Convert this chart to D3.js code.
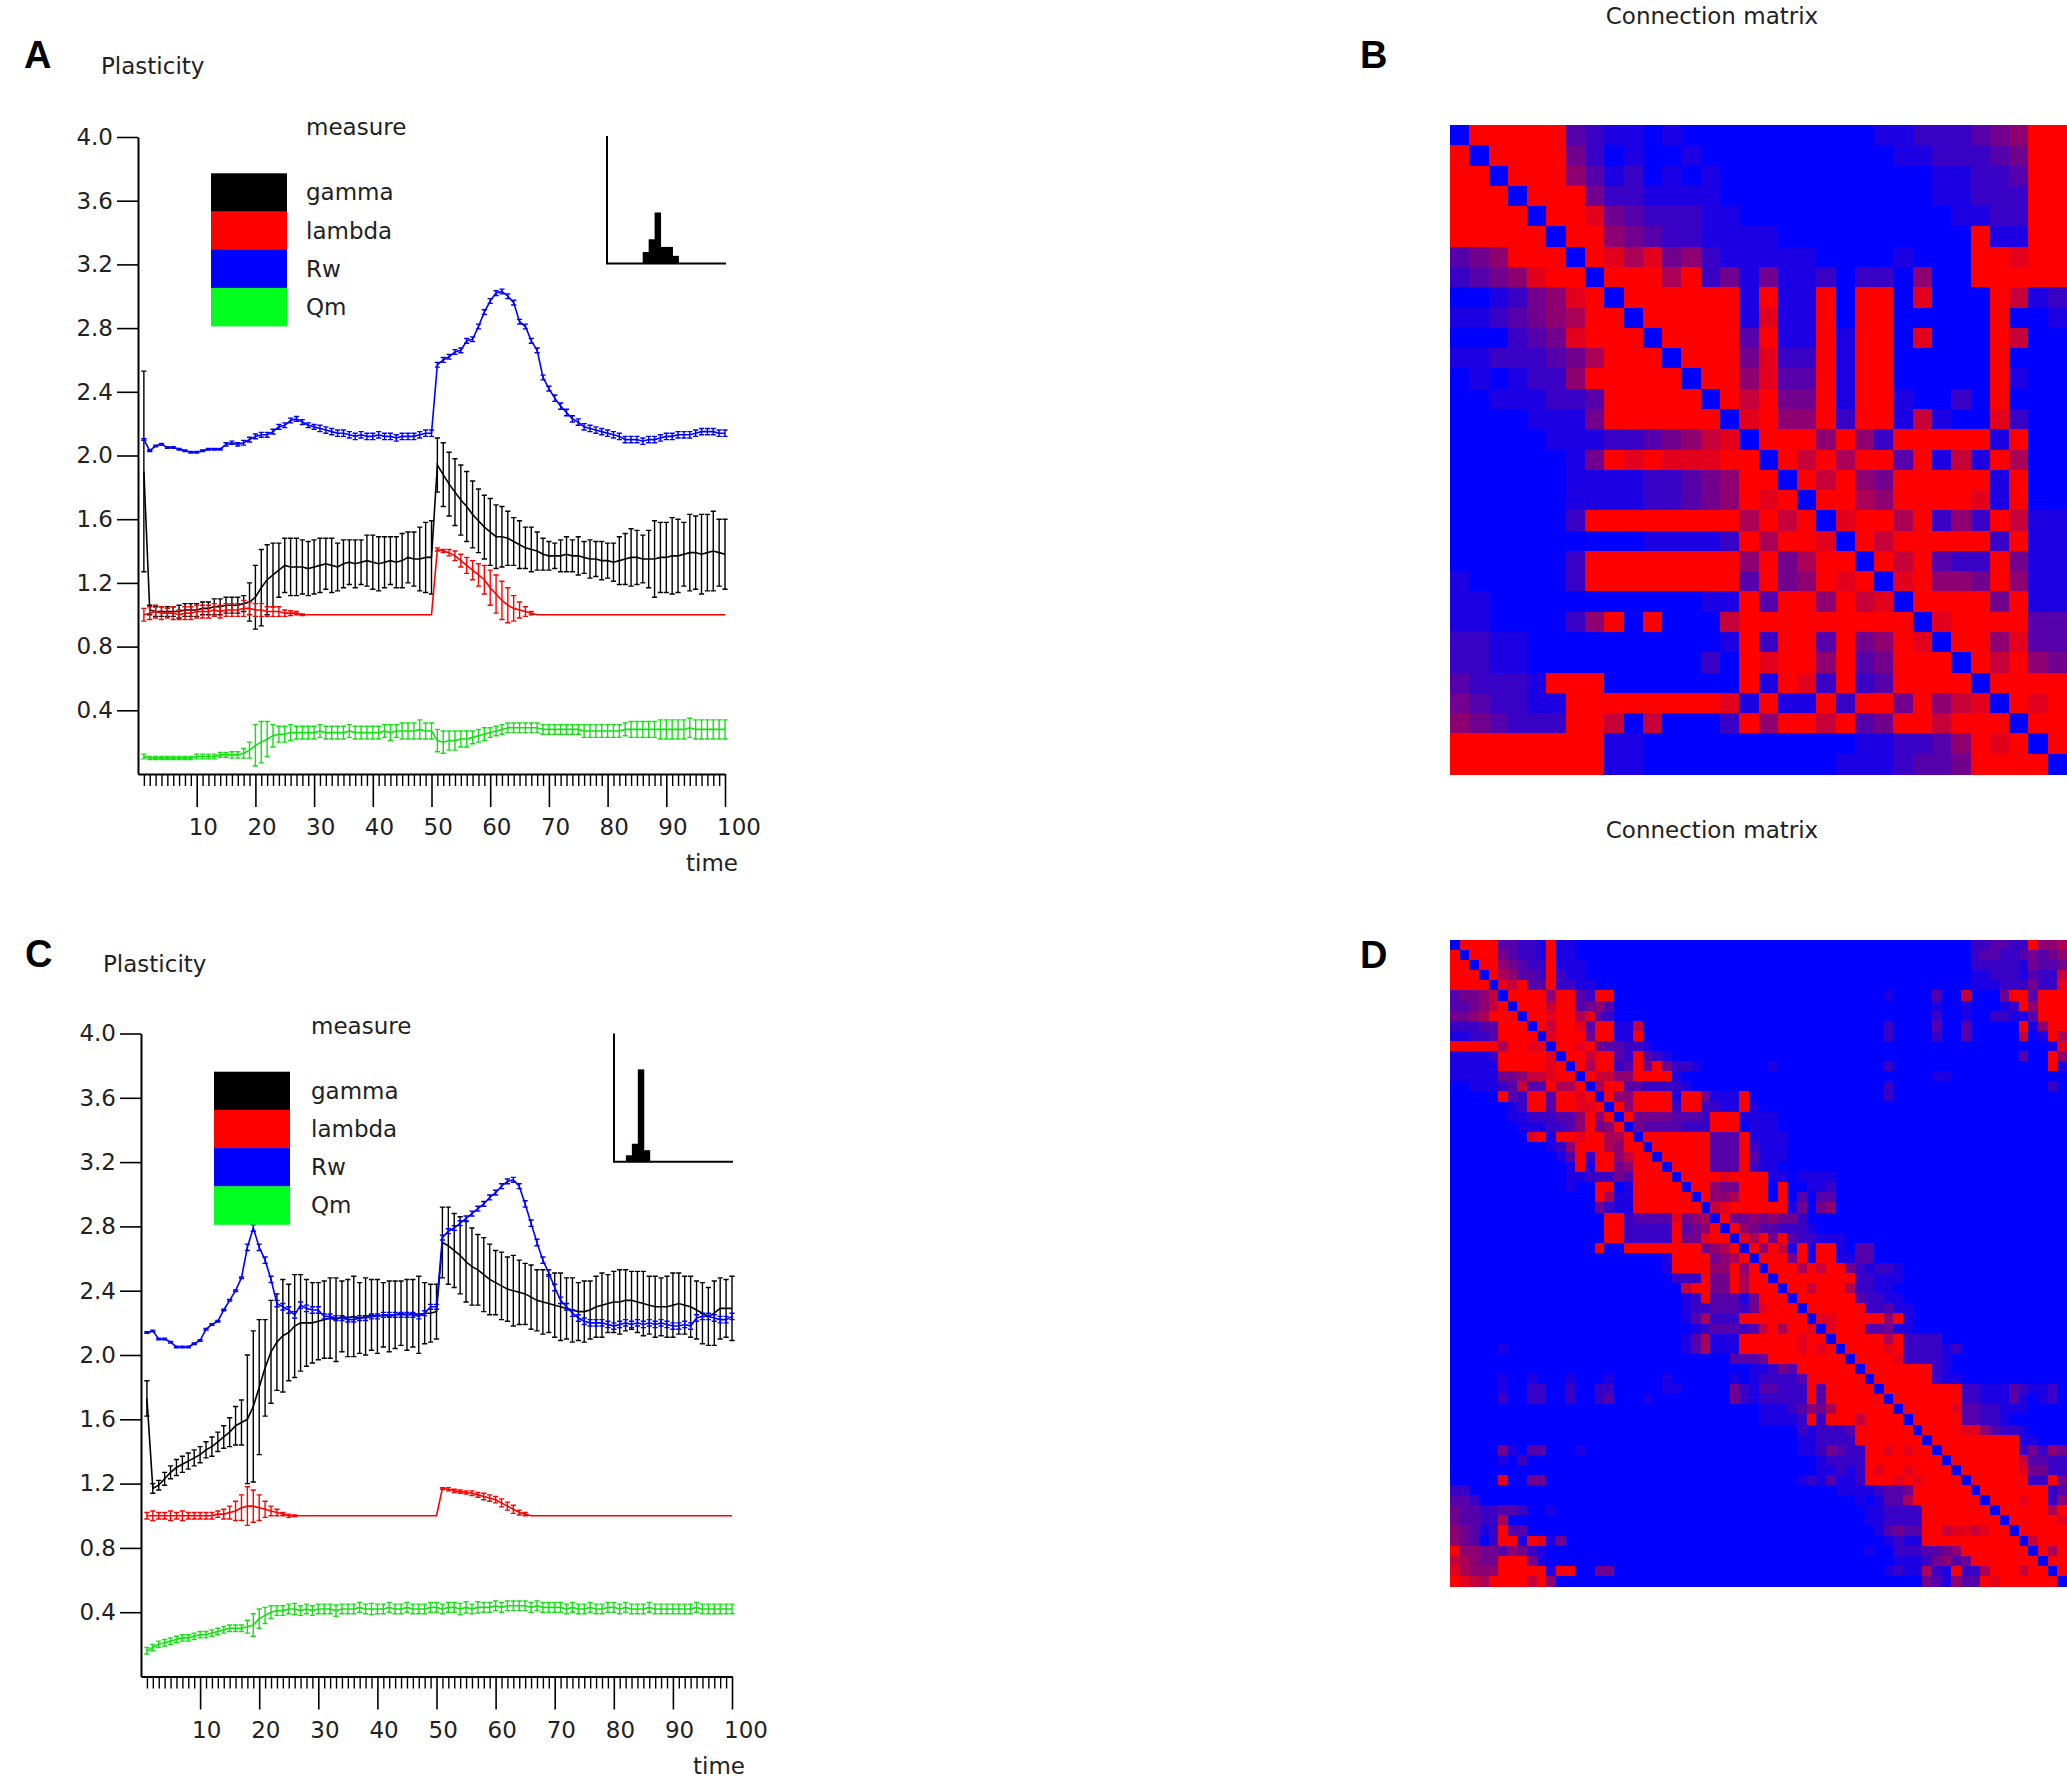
<!DOCTYPE html>
<html><head><meta charset="utf-8">
<script src="https://cdn.jsdelivr.net/npm/d3@7"></script>
<style>
html,body{margin:0;padding:0;background:#fff;}
svg{display:block;}
text{font-family:"DejaVu Sans",Verdana,sans-serif;fill:#222;}
</style></head><body>
<svg id="chart" width="2067" height="1778"></svg>
<script>
// ---------------- DATA ----------------
const timeSteps = d3.range(1, 101);
const yTickValues = [0.4, 0.8, 1.2, 1.6, 2.0, 2.4, 2.8, 3.2, 3.6, 4.0];
const xTickValues = [10, 20, 30, 40, 50, 60, 70, 80, 90, 100];
const measures = ["gamma", "lambda", "Rw", "Qm"];
const measureColors = ["#000000", "#ff0000", "#0000ff", "#00ff1e"];
const lineColors = ["#000000", "#ff0000", "#0000ff", "#14e014"];

// Panel A
const A_gamma = [1.90,1.03,1.02,1.02,1.02,1.02,1.02,1.03,1.03,1.03,
 1.04,1.04,1.05,1.05,1.06,1.06,1.06,1.07,1.08,1.11,
 1.17,1.22,1.25,1.28,1.31,1.30,1.30,1.30,1.29,1.30,
 1.31,1.32,1.31,1.30,1.32,1.33,1.32,1.33,1.34,1.33,
 1.32,1.33,1.34,1.33,1.34,1.36,1.35,1.35,1.36,1.36,
 1.94,1.88,1.82,1.77,1.72,1.68,1.63,1.59,1.55,1.52,
 1.49,1.49,1.48,1.46,1.44,1.42,1.41,1.40,1.38,1.37,
 1.37,1.37,1.38,1.37,1.37,1.36,1.35,1.35,1.34,1.34,
 1.33,1.34,1.35,1.36,1.36,1.35,1.35,1.35,1.36,1.36,
 1.37,1.37,1.38,1.39,1.39,1.38,1.39,1.40,1.39,1.38];
const A_gamma_err = [0.63,0.03,0.03,0.03,0.03,0.03,0.04,0.04,0.04,0.04,
 0.04,0.04,0.05,0.05,0.05,0.05,0.05,0.05,0.12,0.20,
 0.24,0.22,0.20,0.17,0.17,0.18,0.18,0.17,0.17,0.17,
 0.17,0.16,0.17,0.15,0.15,0.14,0.15,0.14,0.16,0.17,
 0.17,0.16,0.15,0.16,0.17,0.16,0.17,0.20,0.22,0.23,
 0.17,0.20,0.20,0.21,0.22,0.22,0.21,0.20,0.20,0.21,
 0.20,0.19,0.17,0.15,0.15,0.13,0.14,0.12,0.10,0.09,
 0.08,0.10,0.11,0.10,0.12,0.10,0.12,0.11,0.12,0.11,
 0.12,0.15,0.16,0.18,0.17,0.15,0.18,0.24,0.22,0.22,
 0.24,0.23,0.20,0.24,0.23,0.25,0.24,0.25,0.21,0.22];
const A_lambda = [1.00,1.01,1.02,1.01,1.01,1.01,1.00,1.01,1.01,1.02,
 1.02,1.02,1.03,1.02,1.03,1.03,1.03,1.04,1.04,1.03,
 1.03,1.02,1.02,1.02,1.01,1.01,1.01,1.00,1.00,1.00,
 1.00,1.00,1.00,1.00,1.00,1.00,1.00,1.00,1.00,1.00,
 1.00,1.00,1.00,1.00,1.00,1.00,1.00,1.00,1.00,1.00,
 1.41,1.40,1.39,1.37,1.34,1.31,1.28,1.25,1.22,1.17,
 1.13,1.09,1.06,1.04,1.03,1.02,1.01,1.00,1.00,1.00,
 1.00,1.00,1.00,1.00,1.00,1.00,1.00,1.00,1.00,1.00,
 1.00,1.00,1.00,1.00,1.00,1.00,1.00,1.00,1.00,1.00,
 1.00,1.00,1.00,1.00,1.00,1.00,1.00,1.00,1.00,1.00];
const A_lambda_err = [0.04,0.04,0.04,0.04,0.03,0.04,0.03,0.04,0.04,0.04,
 0.04,0.04,0.04,0.04,0.04,0.04,0.04,0.05,0.04,0.04,
 0.04,0.03,0.03,0.03,0.02,0.015,0.01,0.005,0,0,
 0,0,0,0,0,0,0,0,0,0,
 0,0,0,0,0,0,0,0,0,0,
 0.01,0.01,0.02,0.03,0.04,0.05,0.06,0.07,0.09,0.11,
 0.12,0.12,0.11,0.08,0.05,0.03,0.01,0,0,0,
 0,0,0,0,0,0,0,0,0,0,
 0,0,0,0,0,0,0,0,0,0,
 0,0,0,0,0,0,0,0,0,0];
const A_Rw = [2.10,2.03,2.06,2.07,2.05,2.05,2.04,2.03,2.02,2.02,
 2.03,2.04,2.04,2.04,2.07,2.08,2.07,2.08,2.10,2.12,
 2.13,2.13,2.15,2.18,2.19,2.22,2.23,2.21,2.19,2.18,
 2.17,2.16,2.15,2.14,2.14,2.13,2.12,2.13,2.12,2.12,
 2.13,2.12,2.12,2.11,2.12,2.12,2.12,2.13,2.14,2.14,
 2.57,2.60,2.62,2.65,2.66,2.72,2.73,2.81,2.90,2.97,
 3.02,3.03,3.00,2.96,2.84,2.81,2.72,2.66,2.49,2.42,
 2.36,2.31,2.27,2.23,2.21,2.18,2.17,2.16,2.15,2.14,
 2.13,2.12,2.10,2.10,2.10,2.09,2.10,2.10,2.11,2.12,
 2.12,2.13,2.13,2.13,2.14,2.15,2.15,2.15,2.14,2.14];
const A_Rw_err = [0.005,0.005,0.005,0.005,0.005,0.005,0.005,0.005,0.005,0.005,
 0.005,0.005,0.005,0.005,0.01,0.01,0.01,0.015,0.015,0.015,
 0.015,0.015,0.015,0.015,0.015,0.015,0.015,0.015,0.015,0.015,
 0.02,0.02,0.02,0.02,0.02,0.02,0.02,0.02,0.02,0.02,
 0.02,0.02,0.02,0.02,0.02,0.02,0.02,0.02,0.02,0.02,
 0.015,0.015,0.015,0.015,0.015,0.015,0.015,0.015,0.015,0.015,
 0.015,0.015,0.015,0.015,0.015,0.015,0.015,0.015,0.015,0.015,
 0.02,0.02,0.02,0.02,0.02,0.02,0.02,0.02,0.02,0.02,
 0.02,0.02,0.02,0.02,0.02,0.02,0.02,0.02,0.02,0.02,
 0.02,0.02,0.02,0.02,0.02,0.02,0.02,0.02,0.02,0.02];
const A_Qm = [0.11,0.10,0.10,0.10,0.10,0.10,0.10,0.10,0.10,0.11,
 0.11,0.11,0.11,0.12,0.12,0.12,0.12,0.13,0.15,0.18,
 0.20,0.22,0.24,0.25,0.25,0.26,0.26,0.26,0.26,0.26,
 0.27,0.26,0.26,0.26,0.26,0.27,0.26,0.26,0.26,0.26,
 0.26,0.27,0.26,0.27,0.27,0.27,0.27,0.28,0.27,0.27,
 0.21,0.20,0.21,0.21,0.22,0.22,0.23,0.24,0.25,0.26,
 0.27,0.28,0.29,0.29,0.29,0.29,0.29,0.29,0.28,0.28,
 0.28,0.28,0.28,0.28,0.28,0.27,0.27,0.27,0.27,0.27,
 0.27,0.27,0.28,0.28,0.28,0.28,0.28,0.28,0.28,0.28,
 0.28,0.28,0.28,0.29,0.28,0.28,0.28,0.28,0.28,0.28];
const A_Qm_err = [0.015,0.01,0.01,0.01,0.01,0.01,0.01,0.01,0.01,0.015,
 0.015,0.015,0.015,0.015,0.015,0.02,0.02,0.03,0.05,0.13,
 0.13,0.11,0.07,0.05,0.05,0.05,0.04,0.04,0.04,0.04,
 0.04,0.04,0.04,0.04,0.04,0.04,0.04,0.04,0.04,0.04,
 0.04,0.04,0.05,0.04,0.05,0.05,0.05,0.06,0.05,0.05,
 0.07,0.07,0.06,0.06,0.05,0.05,0.04,0.04,0.04,0.03,
 0.03,0.03,0.03,0.03,0.03,0.03,0.03,0.03,0.03,0.03,
 0.03,0.03,0.03,0.03,0.03,0.04,0.04,0.04,0.04,0.04,
 0.04,0.04,0.04,0.05,0.05,0.05,0.05,0.05,0.06,0.06,
 0.06,0.06,0.06,0.06,0.06,0.06,0.06,0.06,0.06,0.06];

// Panel C
const C_gamma = [1.73,1.17,1.19,1.23,1.27,1.30,1.32,1.34,1.36,1.38,
 1.41,1.43,1.46,1.49,1.52,1.56,1.58,1.60,1.68,1.80,
 1.92,2.02,2.08,2.12,2.14,2.18,2.20,2.20,2.20,2.21,
 2.22,2.23,2.22,2.24,2.23,2.24,2.23,2.24,2.25,2.24,
 2.25,2.24,2.25,2.26,2.25,2.26,2.25,2.26,2.26,2.27,
 2.70,2.68,2.65,2.62,2.58,2.55,2.53,2.50,2.47,2.45,
 2.43,2.41,2.40,2.39,2.38,2.36,2.34,2.33,2.32,2.31,
 2.30,2.29,2.28,2.27,2.27,2.28,2.30,2.31,2.32,2.33,
 2.33,2.34,2.34,2.33,2.32,2.31,2.30,2.30,2.30,2.31,
 2.32,2.31,2.30,2.28,2.26,2.24,2.26,2.29,2.29,2.29];
const C_gamma_err = [0.11,0.03,0.03,0.04,0.04,0.05,0.05,0.05,0.05,0.05,
 0.05,0.06,0.06,0.07,0.09,0.12,0.14,0.40,0.47,0.42,
 0.30,0.32,0.30,0.35,0.30,0.32,0.30,0.27,0.25,0.24,
 0.24,0.25,0.26,0.22,0.24,0.25,0.22,0.24,0.22,0.23,
 0.20,0.22,0.21,0.20,0.22,0.21,0.24,0.19,0.18,0.17,
 0.22,0.24,0.23,0.24,0.25,0.24,0.22,0.23,0.22,0.20,
 0.21,0.20,0.22,0.20,0.19,0.20,0.19,0.20,0.18,0.20,
 0.21,0.19,0.20,0.18,0.19,0.18,0.19,0.20,0.18,0.19,
 0.20,0.19,0.18,0.19,0.20,0.18,0.19,0.18,0.19,0.20,
 0.19,0.18,0.19,0.18,0.19,0.18,0.20,0.19,0.18,0.20];
const C_lambda = [1.00,1.00,1.00,1.00,1.00,1.00,1.00,1.00,1.00,1.00,
 1.00,1.00,1.01,1.01,1.02,1.03,1.05,1.06,1.06,1.05,
 1.04,1.03,1.02,1.01,1.00,1.00,1.00,1.00,1.00,1.00,
 1.00,1.00,1.00,1.00,1.00,1.00,1.00,1.00,1.00,1.00,
 1.00,1.00,1.00,1.00,1.00,1.00,1.00,1.00,1.00,1.00,
 1.17,1.165,1.155,1.15,1.145,1.14,1.13,1.12,1.11,1.10,
 1.08,1.06,1.04,1.02,1.01,1.00,1.00,1.00,1.00,1.00,
 1.00,1.00,1.00,1.00,1.00,1.00,1.00,1.00,1.00,1.00,
 1.00,1.00,1.00,1.00,1.00,1.00,1.00,1.00,1.00,1.00,
 1.00,1.00,1.00,1.00,1.00,1.00,1.00,1.00,1.00,1.00];
const C_lambda_err = [0.02,0.03,0.02,0.02,0.03,0.02,0.03,0.02,0.02,0.02,
 0.02,0.02,0.02,0.03,0.04,0.06,0.08,0.12,0.10,0.08,
 0.05,0.03,0.02,0.01,0.01,0.005,0,0,0,0,
 0,0,0,0,0,0,0,0,0,0,
 0,0,0,0,0,0,0,0,0,0,
 0.005,0.01,0.01,0.01,0.01,0.015,0.015,0.02,0.02,0.02,
 0.025,0.025,0.025,0.015,0.01,0,0,0,0,0,
 0,0,0,0,0,0,0,0,0,0,
 0,0,0,0,0,0,0,0,0,0,
 0,0,0,0,0,0,0,0,0,0];
const C_Rw = [2.14,2.15,2.10,2.10,2.08,2.05,2.05,2.05,2.07,2.09,
 2.16,2.19,2.21,2.28,2.34,2.40,2.48,2.67,2.79,2.67,
 2.59,2.47,2.32,2.30,2.28,2.25,2.31,2.29,2.28,2.28,
 2.24,2.24,2.23,2.23,2.22,2.22,2.23,2.23,2.24,2.24,
 2.25,2.25,2.25,2.25,2.25,2.25,2.24,2.26,2.30,2.30,
 2.73,2.77,2.79,2.82,2.85,2.88,2.91,2.94,2.98,3.01,
 3.05,3.08,3.09,3.05,2.94,2.82,2.70,2.59,2.51,2.42,
 2.34,2.30,2.26,2.23,2.21,2.20,2.20,2.20,2.19,2.18,
 2.19,2.20,2.19,2.20,2.19,2.20,2.19,2.20,2.19,2.18,
 2.18,2.19,2.18,2.23,2.24,2.24,2.23,2.22,2.22,2.24];
const C_Rw_err = [0.005,0.005,0.005,0.005,0.005,0.005,0.005,0.005,0.005,0.005,
 0.005,0.005,0.005,0.005,0.005,0.005,0.005,0.02,0.02,0.02,
 0.02,0.02,0.02,0.02,0.02,0.02,0.02,0.02,0.02,0.02,
 0.015,0.015,0.015,0.015,0.015,0.015,0.015,0.015,0.015,0.015,
 0.015,0.015,0.015,0.015,0.015,0.015,0.015,0.015,0.015,0.015,
 0.015,0.015,0.015,0.015,0.015,0.015,0.015,0.015,0.015,0.015,
 0.015,0.015,0.015,0.015,0.02,0.02,0.02,0.02,0.02,0.02,
 0.02,0.02,0.02,0.02,0.02,0.02,0.02,0.02,0.02,0.02,
 0.02,0.02,0.02,0.02,0.02,0.02,0.02,0.02,0.02,0.02,
 0.02,0.02,0.02,0.02,0.02,0.02,0.02,0.02,0.02,0.02];
const C_Qm = [0.16,0.18,0.20,0.21,0.22,0.23,0.24,0.24,0.25,0.26,
 0.26,0.27,0.28,0.29,0.30,0.30,0.30,0.31,0.32,0.36,
 0.38,0.40,0.41,0.41,0.42,0.42,0.41,0.42,0.41,0.42,
 0.42,0.42,0.41,0.42,0.42,0.42,0.43,0.42,0.42,0.42,
 0.42,0.43,0.42,0.42,0.43,0.42,0.42,0.42,0.43,0.43,
 0.42,0.43,0.43,0.42,0.43,0.42,0.43,0.43,0.43,0.44,
 0.43,0.44,0.44,0.44,0.44,0.43,0.44,0.43,0.43,0.43,
 0.43,0.42,0.43,0.42,0.42,0.43,0.42,0.42,0.43,0.43,
 0.42,0.43,0.42,0.42,0.42,0.43,0.42,0.42,0.42,0.42,
 0.42,0.42,0.42,0.43,0.42,0.42,0.42,0.42,0.42,0.42];
const C_Qm_err = [0.02,0.02,0.02,0.02,0.02,0.02,0.02,0.02,0.02,0.02,
 0.02,0.02,0.02,0.02,0.02,0.02,0.02,0.04,0.07,0.06,
 0.05,0.04,0.03,0.03,0.03,0.035,0.03,0.03,0.03,0.03,
 0.03,0.03,0.035,0.03,0.03,0.03,0.03,0.03,0.035,0.03,
 0.03,0.03,0.03,0.03,0.03,0.03,0.03,0.03,0.03,0.03,
 0.03,0.03,0.03,0.035,0.035,0.03,0.035,0.03,0.03,0.03,
 0.03,0.03,0.03,0.03,0.03,0.03,0.03,0.03,0.03,0.03,
 0.03,0.03,0.03,0.03,0.03,0.03,0.03,0.03,0.03,0.03,
 0.03,0.03,0.03,0.03,0.03,0.03,0.03,0.03,0.03,0.03,
 0.03,0.03,0.03,0.03,0.03,0.03,0.03,0.03,0.03,0.03];

// Inset histograms (bin index, count)
const A_histBins = [6, 7, 8, 9, 10, 11];
const A_histCounts = [9, 19, 40, 13, 13, 6];
const C_histBins = [2, 3, 4, 5];
const C_histCounts = [5, 14, 72, 9];

// Connection matrices: level 0 (blue) .. 9 (red)
const B_matrix = [
"09999932110100000000001122234599",
"90999942010010000000000112223499",
"99099953120101000000000001122399",
"99909994221111000000000001122299",
"99990998432221100000000000112299",
"99999099543221111000000000091199",
"34599909868452111110000100099899",
"23458990999692414112022050099999",
"00124589099999919119099080009712",
"11234569909999918119099000009001",
"00023489990999939119199080009700",
"11222346999099948229199000009000",
"01012259999909958339199000009100",
"00111223999990979449199100209000",
"00001114999999089559299171008200",
"00000111223457809995952999991900",
"00000014989888990979699391719600",
"00000011112234599097954999991900",
"00000011112234598909965999981900",
"00000029999999969790899692529711",
"00000000001111296998097999992911",
"00000029999999959469909793229411",
"10000029999999939459890895549511",
"11000000000001193995978099994911",
"11000025909000799999999908999933",
"22110000000000192993945980995833",
"22110000000002098995934999097954",
"32221999000000091982923999909999",
"43221199999999819119299495780989",
"54322299707000295997934997999099",
"99999999110000000000011223598909",
"99999999110000000000111233499990"];

const D_matrix = [
"0999933221911 00000000000000000000002233229556",
"9099943221911 00000000000000000000002332234345",
"99099543229111 00000000000000000000002222214334",
"99909653329211 00000000000000000000001122213227",
"999908793392211 00000000000000000000001112224228",
"34457099995993299 00000000000001000030070004993999",
"33457909997993453 00000000000000000010010001295999",
"44569990998996832 00000000000000000020010022113999",
"22233999097998399117 00000000000002000030030000091599",
"11223999908999499119 00000000000002000020030000070196",
"999996998809989433221 00000000000000000000000000000018",
"11112999998099799329321 00000000000000000000000000030095",
"11111999998909699239494221 01000000000002000000000000000091",
"111114457789909775599991 00000000000000000011",
"0011123733966906993322221 00000000000002000000000000000020",
"00000932993998909559999199411190 00000000000002",
"00000012993998890959999299221191 0",
"00000011222335959094444333299911 11",
"00000001112235945904333322299901 11",
"00000000891998996690999999933391 111",
"00000000001259996599099999933392 111",
"00000000000139299579909999933393 111",
"00000000000019199459990999933392 11",
"00000000000011222439999099998999 91101111",
"00000000000010099019999909954499 90900112",
"00000000000000096119999990955699 90903033",
"00000000000000042119999999078999 99914045",
"00000000000000009923333845609445 45442",
"00000000000000009922222934590954 332221",
"00000000000000009922222944899086 949322111",
"00000000000000090099999999456909 597191991033",
"00000000000000000000001999945690 999491991133",
"00000000000000000000001999955959 099969799421221",
"00000000000000000000000222944969 909999999922111",
"00000000000000000000000079944969 99099799962211",
"00000000000000000000000012933314 999099999932211",
"00000000000000000000000012233324 8999099999922311",
"00000000000000000000000013622299 9999908899999591",
"00000000000000000000000001233323 7969980899933411",
"00000000000000000000000013611199 9999899099999692222",
"00000100000000000000000013611199 999989890999989222212",
"00000000000000000000000000000333 49999999909999822221",
"00000000000000000000000000000001 12439999990999999921",
"00000100100010001000001000000101 222239999990999999211",
"00000100220020022000001100000421 33222939999909999999922111321120",
"00000200220020023000100000000421 22222939999990999999922111310120",
"0 1112354699999909999983322111",
"0 11112929997999909999933221",
"0 0000212223999999099998853221",
"0 00001122229999999099999999911",
"00000410330001 00001124322998989909999999924254",
"00000102 00000012222999999990999999973322",
"0 00000011212989989999099999984422",
"0000080044 00001213112999898999909999992294",
"22 00000000111123349999990999999923",
"332 00000000001013369999999099989925",
"43322332001 00000000000112222999999909999969",
"433226 00000000000112222999999990999998",
"54312933 00000000000013433997887899099999",
"543029919814 00000000000001211999999999907999",
"9554435421 00000000000100222334599999990969",
"7654499941 00000000000000111245349999999099",
"86555999991990044 00000000000001211621922699979909",
"98769999795 00000000000000000431533989999990"];

// ---------------- DRAWING ----------------
const svg = d3.select("#chart");
svg.append("rect").attr("width", 2067).attr("height", 1778).attr("fill", "#fff");

const FONT = 23;

function drawPanel(cfg) {
  const g = svg.append("g");
  const x = d3.scaleLinear([0, 100], [cfg.x0, cfg.x1]);
  const y = d3.scaleLinear([0, 4], [cfg.yBot, cfg.yTop]);

  // panel letter and title
  g.append("text").attr("x", cfg.letterX).attr("y", cfg.letterY)
    .style("font-family", "'Liberation Sans', Arial, sans-serif").style("font-weight", "bold")
    .style("font-size", "38px").style("fill", "#000").text(cfg.letter);
  g.append("text").attr("x", cfg.titleX).attr("y", cfg.titleY).style("font-size", FONT + "px").text("Plasticity");

  // y axis
  const ya = g.append("g").attr("transform", `translate(${cfg.x0},0)`)
    .call(d3.axisLeft(y).tickValues(yTickValues).tickFormat(d => d.toFixed(1))
      .tickSize(21).tickPadding(4).tickSizeOuter(0));
  ya.select(".domain").attr("stroke", "#000").attr("stroke-width", 2);
  ya.selectAll(".tick line").attr("stroke", "#000").attr("stroke-width", 1.6);
  ya.selectAll(".tick text").style("font-size", FONT + "px").attr("fill", "#222");

  // x axis minor
  const minor = timeSteps.filter(t => t % 10 !== 0);
  const xm = g.append("g").attr("transform", `translate(0,${cfg.yBot})`)
    .call(d3.axisBottom(x).tickValues(minor).tickSize(12).tickSizeOuter(0).tickFormat(""));
  xm.select(".domain").attr("stroke", "#000").attr("stroke-width", 2);
  xm.selectAll(".tick line").attr("stroke", "#000").attr("stroke-width", 1.4);
  // x axis major
  const xM = g.append("g").attr("transform", `translate(0,${cfg.yBot})`)
    .call(d3.axisBottom(x).tickValues(xTickValues).tickSize(33).tickSizeOuter(0));
  xM.select(".domain").remove();
  xM.selectAll(".tick line").attr("stroke", "#000").attr("stroke-width", 1.6);
  xM.selectAll(".tick text").attr("y", 61).attr("dy", 0).attr("x", -8.5)
    .attr("text-anchor", "start").style("font-size", FONT + "px").attr("fill", "#222");
  g.append("text").attr("x", cfg.x1 + 13).attr("y", cfg.yBot + 97).attr("text-anchor", "end")
    .style("font-size", FONT + "px").text("time");

  // data series
  cfg.series.forEach((s, i) => {
    const pts = timeSteps.map((t, k) => ({ t, m: s.mean[k], e: s.err[k] }));
    const col = lineColors[i];
    g.append("path").datum(pts)
      .attr("fill", "none").attr("stroke", col).attr("stroke-width", 1.6)
      .attr("d", d3.line().x(d => x(d.t)).y(d => y(d.m)));
    g.append("g").attr("stroke", col).attr("stroke-width", 1.4).attr("fill", "none")
      .selectAll("path").data(pts.filter(d => d.e > 0)).join("path")
      .attr("d", d => {
        const xx = x(d.t), y1 = y(d.m + d.e), y2 = y(d.m - d.e);
        return `M${xx - 2.6},${y1}H${xx + 2.6}M${xx},${y1}V${y2}M${xx - 2.6},${y2}H${xx + 2.6}`;
      });
  });

  // legend
  const lg = g.append("g");
  lg.append("text").attr("x", cfg.legLabelX).attr("y", cfg.legTop - 38).style("font-size", FONT + "px").text("measure");
  const sh = 38.2;
  measures.forEach((m, i) => {
    lg.append("rect").attr("x", cfg.legX).attr("y", cfg.legTop + i * sh).attr("width", 76).attr("height", sh + 0.3)
      .attr("fill", measureColors[i]);
    lg.append("text").attr("x", cfg.legLabelX).attr("y", cfg.legTop + i * sh + sh / 2 + 8)
      .style("font-size", FONT + "px").text(m);
  });

  // inset histogram
  const xi = d3.scaleLinear([0, 20], [cfg.insX0, cfg.insX1]);
  const yi = d3.scaleLinear([0, 100], [cfg.insBot, cfg.insTop]);
  const ig = g.append("g");
  ig.selectAll("rect").data(cfg.histBins).join("rect")
    .attr("x", b => xi(b)).attr("width", b => xi(b + 1) - xi(b) + 0.5)
    .attr("y", (b, k) => yi(cfg.histCounts[k])).attr("height", (b, k) => yi(0) - yi(cfg.histCounts[k]))
    .attr("fill", "#000");
  ig.append("path").attr("fill", "none").attr("stroke", "#000").attr("stroke-width", 2)
    .attr("d", `M${xi(0)},${yi(100)}V${yi(0)}H${xi(20)}`);
}

drawPanel({
  letter: "A", letterX: 24, letterY: 68, titleX: 101, titleY: 74,
  x0: 138, x1: 725, yTop: 137, yBot: 774,
  legX: 211, legTop: 173.3, legLabelX: 306,
  insX0: 607, insX1: 726, insTop: 136, insBot: 263.5,
  histBins: A_histBins, histCounts: A_histCounts,
  series: [
    { mean: A_gamma, err: A_gamma_err },
    { mean: A_lambda, err: A_lambda_err },
    { mean: A_Rw, err: A_Rw_err },
    { mean: A_Qm, err: A_Qm_err }]
});
drawPanel({
  letter: "C", letterX: 25, letterY: 967, titleX: 103, titleY: 972,
  x0: 141, x1: 732, yTop: 1033.5, yBot: 1676.5,
  legX: 214, legTop: 1071.7, legLabelX: 311,
  insX0: 614, insX1: 733, insTop: 1033.5, insBot: 1161.7,
  histBins: C_histBins, histCounts: C_histCounts,
  series: [
    { mean: C_gamma, err: C_gamma_err },
    { mean: C_lambda, err: C_lambda_err },
    { mean: C_Rw, err: C_Rw_err },
    { mean: C_Qm, err: C_Qm_err }]
});

// connection matrices
const levelColor = d3.scaleLinear([0, 9], ["#0000ff", "#ff0000"]).interpolate(d3.interpolateRgb);

function parseRows(rows, n) {
  return rows.map(r => {
    const parts = r.split(" ");
    const half = n / parts.length;
    return parts.map(p => p.padEnd(half, "0").slice(0, half)).join("").split("").map(Number);
  });
}

function drawMatrix(rows, n, box, letter, title) {
  const vals = parseRows(rows, n);
  const cells = [];
  vals.forEach((row, r) => row.forEach((v, c) => cells.push({ r, c, v })));
  const xb = d3.scaleBand(d3.range(n), [box.x0, box.x1]);
  const yb = d3.scaleBand(d3.range(n), [box.y0, box.y1]);
  const g = svg.append("g").attr("shape-rendering", "crispEdges");
  g.selectAll("rect").data(cells).join("rect")
    .attr("x", d => xb(d.c)).attr("y", d => yb(d.r))
    .attr("width", xb.bandwidth() + 0.6).attr("height", yb.bandwidth() + 0.6)
    .attr("fill", d => levelColor(d.v));
  svg.append("text").attr("x", 1712).attr("y", title).attr("text-anchor", "middle")
    .style("font-size", FONT + "px").text("Connection matrix");
  svg.append("text").attr("x", 1360).attr("y", letter)
    .style("font-family", "'Liberation Sans', Arial, sans-serif").style("font-weight", "bold")
    .style("font-size", "38px").style("fill", "#000").text(box.letter);
}

drawMatrix(B_matrix, 32, { x0: 1450, x1: 2067, y0: 125, y1: 774, letter: "B" }, 68, 24);
drawMatrix(D_matrix, 64, { x0: 1450, x1: 2067, y0: 940, y1: 1586, letter: "D" }, 968, 838);
</script>
</body></html>
